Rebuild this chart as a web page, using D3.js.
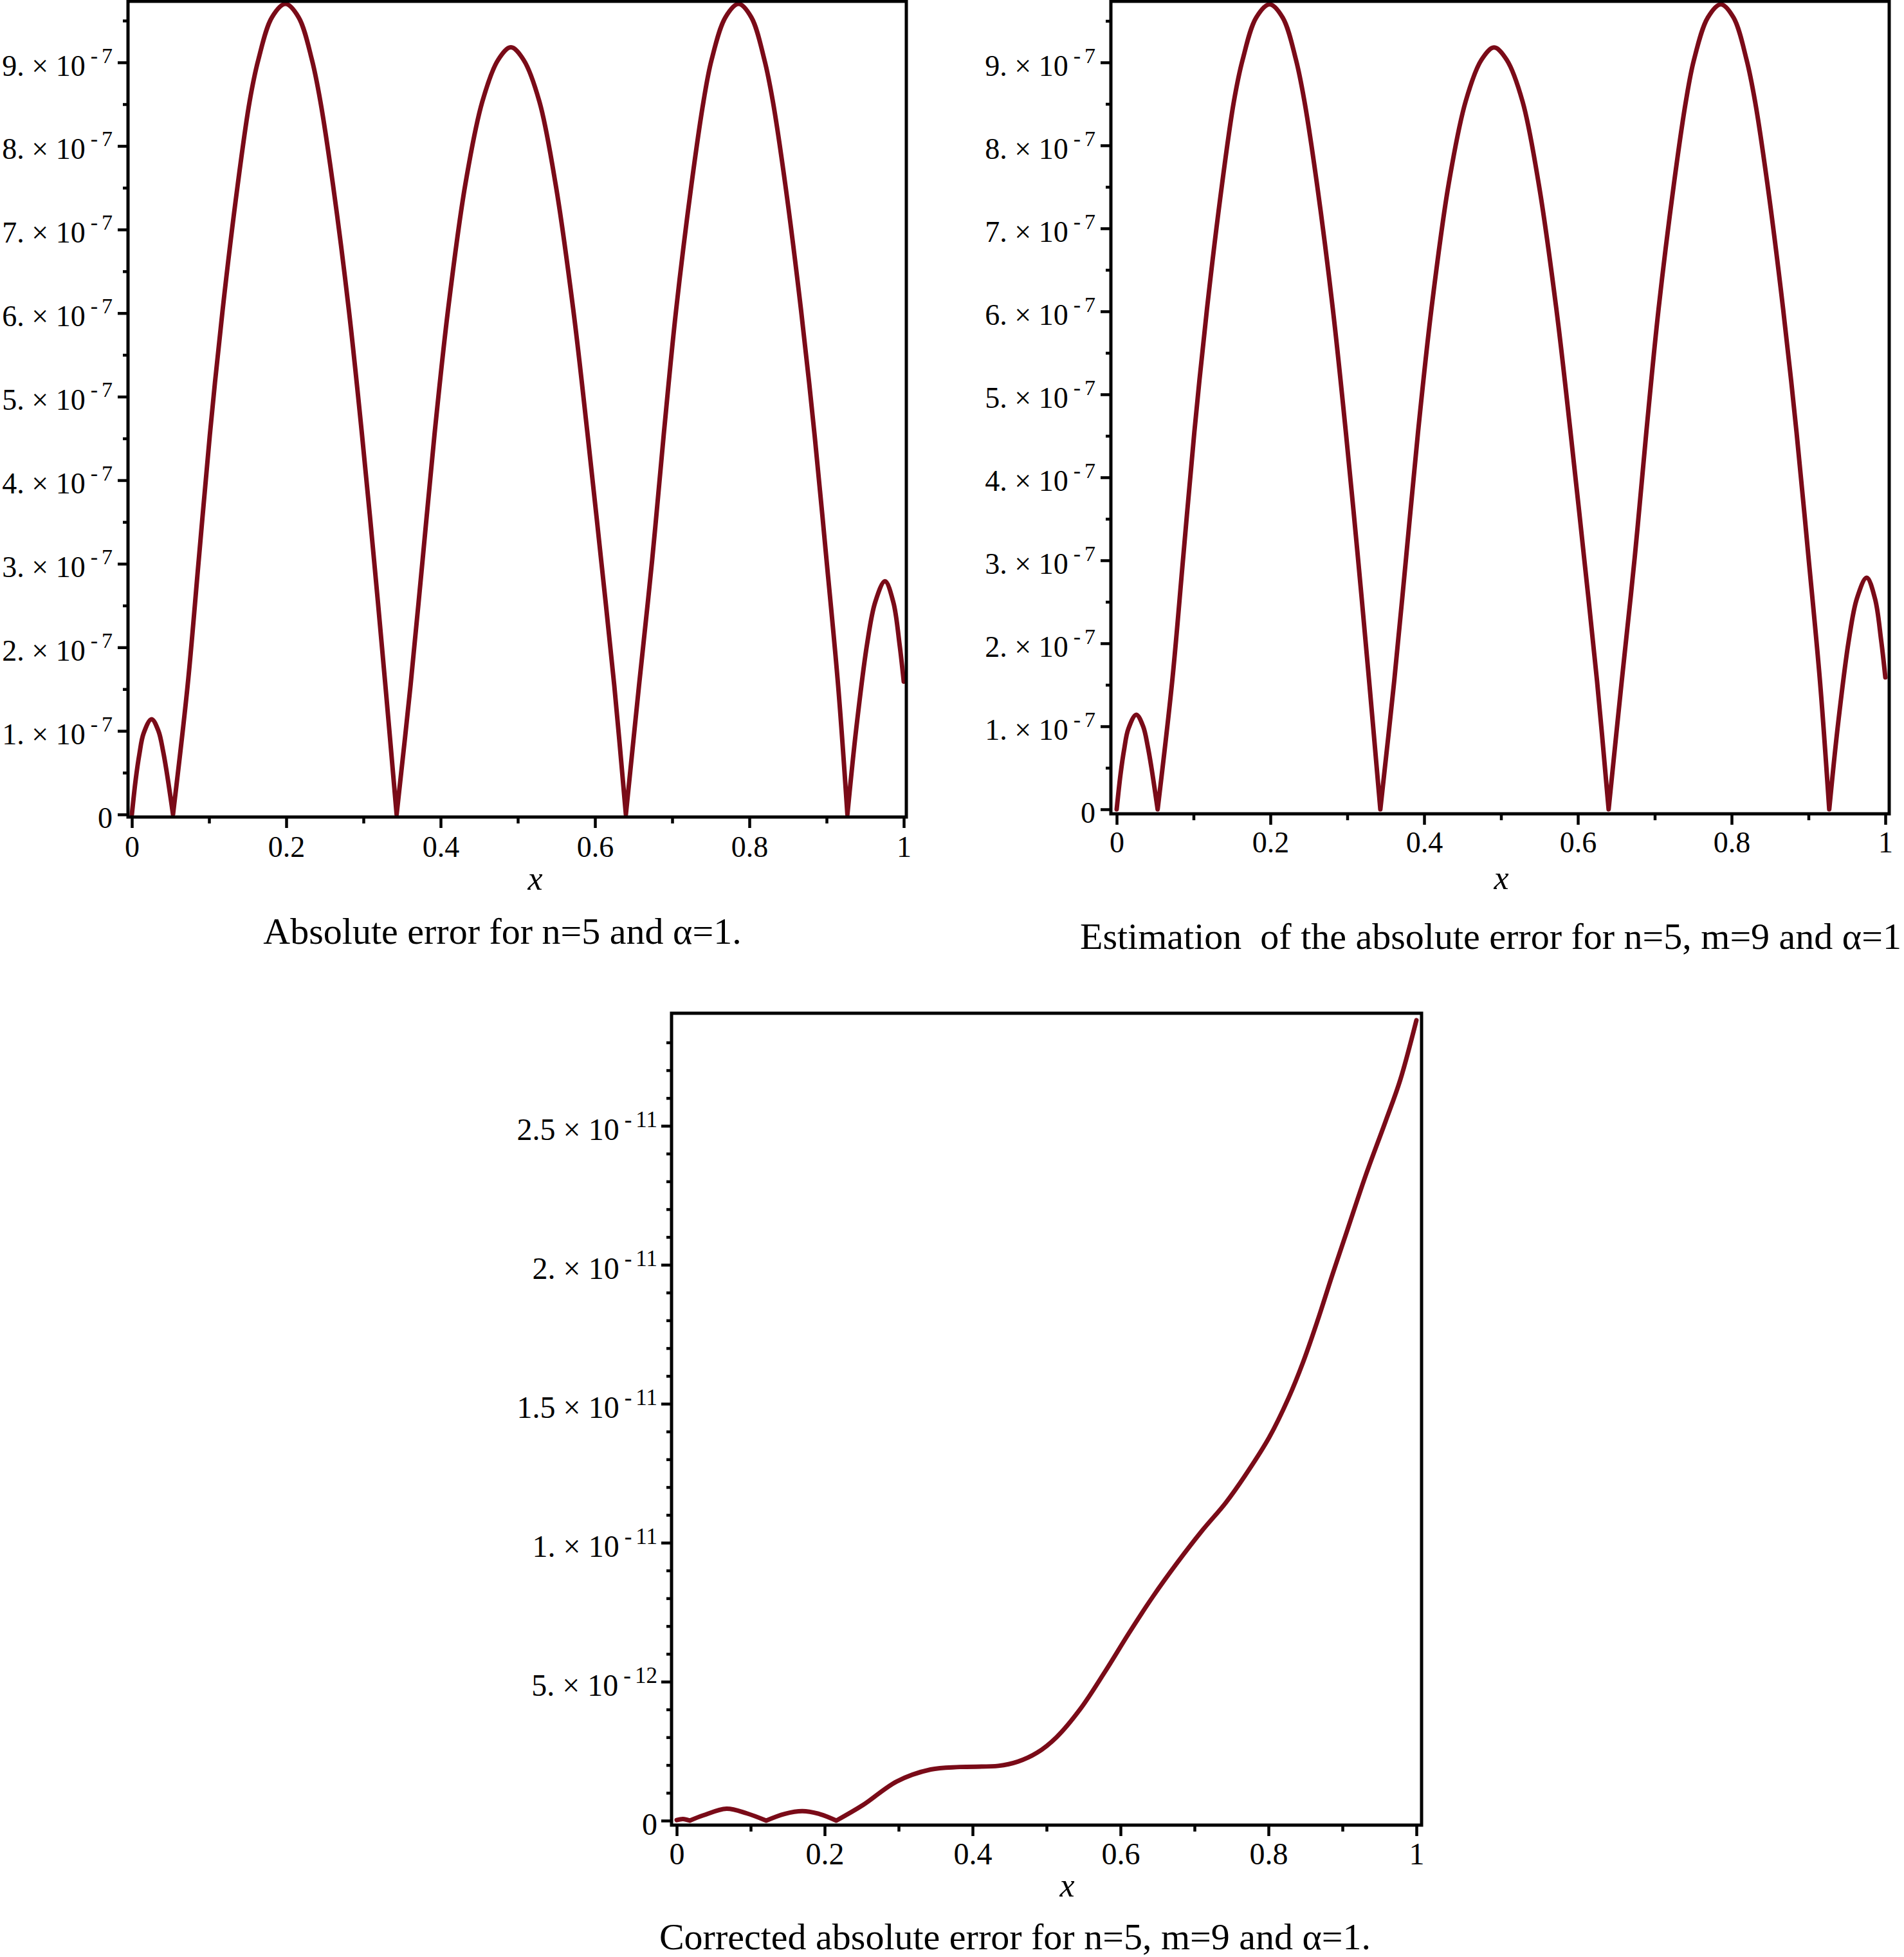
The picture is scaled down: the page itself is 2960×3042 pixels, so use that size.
<!DOCTYPE html>
<html>
<head>
<meta charset="utf-8">
<script src="https://cdn.jsdelivr.net/npm/d3@7"></script>
<style>
  html, body { margin: 0; padding: 0; background: #fff; }
  svg text { font-family: "Liberation Serif", "Times New Roman", Times, serif; }
</style>
</head>
<body>
<svg id="chart" width="2960" height="3042"></svg>
<script>
// ---------------- data ----------------
const xTicks = [0, 0.2, 0.4, 0.6, 0.8, 1];
const xTickLabels = ["0", "0.2", "0.4", "0.6", "0.8", "1"];
const xMinorTicks = [0.1, 0.3, 0.5, 0.7, 0.9];

// top panels: values in units of 1e-7
const yTicksTop = [0, 1, 2, 3, 4, 5, 6, 7, 8, 9];
const yTickLabelsTop = ["0", "1. \u00d7 10^-7", "2. \u00d7 10^-7", "3. \u00d7 10^-7", "4. \u00d7 10^-7",
  "5. \u00d7 10^-7", "6. \u00d7 10^-7", "7. \u00d7 10^-7", "8. \u00d7 10^-7", "9. \u00d7 10^-7"];
const yMinorTop = [0.5, 1.5, 2.5, 3.5, 4.5, 5.5, 6.5, 7.5, 8.5, 9.5];

// bottom panel: values in units of 1e-12
const yTicksBottom = [0, 5, 10, 15, 20, 25];
const yTickLabelsBottom = ["0", "5. \u00d7 10^-12", "1. \u00d7 10^-11", "1.5 \u00d7 10^-11", "2. \u00d7 10^-11", "2.5 \u00d7 10^-11"];
const yMinorBottom = [1, 2, 3, 4, 6, 7, 8, 9, 11, 12, 13, 14, 16, 17, 18, 19, 21, 22, 23, 24, 26, 27, 28];

// Absolute error (1e-7)
const absErrX = [0, 0.005, 0.0097, 0.0152, 0.0255, 0.0344, 0.0404, 0.0451, 0.0533,
  0.0722, 0.0866, 0.101, 0.1175, 0.1372, 0.1525, 0.1638, 0.1815, 0.199, 0.216, 0.2333, 0.2443, 0.2605, 0.2812, 0.2982, 0.3138, 0.3285, 0.343,
  0.361, 0.3766, 0.392, 0.4095, 0.432, 0.454, 0.4745, 0.491, 0.5075, 0.528, 0.549, 0.572, 0.5905, 0.608, 0.625, 0.640,
  0.657, 0.674, 0.689, 0.705, 0.725, 0.7405, 0.751, 0.769, 0.786, 0.8025, 0.8195, 0.8305, 0.8465, 0.867, 0.8845, 0.900, 0.915, 0.927,
  0.9385, 0.9525, 0.963, 0.9757, 0.9865, 0.9945, 1.0];
const absErrY = [0, 0.42, 0.72, 0.97, 1.14, 1.0, 0.76, 0.51, 0,
  1.54, 3.04, 4.54, 6.03, 7.54, 8.53, 9.03, 9.54, 9.70, 9.54, 9.03, 8.53, 7.54, 6.03, 4.54, 3.04, 1.54, 0,
  1.54, 3.04, 4.54, 6.03, 7.54, 8.53, 9.03, 9.18, 9.03, 8.53, 7.54, 6.03, 4.54, 3.04, 1.54, 0,
  1.54, 3.04, 4.54, 6.03, 7.54, 8.53, 9.03, 9.54, 9.70, 9.54, 9.03, 8.53, 7.54, 6.03, 4.54, 3.04, 1.54, 0,
  1.03, 2.04, 2.54, 2.79, 2.54, 2.04, 1.59];

// Estimation of the absolute error (1e-7)
const estErrX = [0, 0.005, 0.0097, 0.0152, 0.0255, 0.0344, 0.0404, 0.0451, 0.0533,
  0.0722, 0.0866, 0.101, 0.1175, 0.1372, 0.1525, 0.1638, 0.1815, 0.199, 0.216, 0.2333, 0.2443, 0.2605, 0.2812, 0.2982, 0.3138, 0.3285, 0.343,
  0.361, 0.3766, 0.392, 0.4095, 0.432, 0.454, 0.4745, 0.491, 0.5075, 0.528, 0.549, 0.572, 0.5905, 0.608, 0.625, 0.640,
  0.657, 0.674, 0.689, 0.705, 0.725, 0.7405, 0.751, 0.769, 0.786, 0.8025, 0.8195, 0.8305, 0.8465, 0.867, 0.8845, 0.900, 0.915, 0.927,
  0.9385, 0.9525, 0.963, 0.9757, 0.9865, 0.9945, 1.0];
const estErrY = [0, 0.42, 0.72, 0.97, 1.14, 1.0, 0.76, 0.51, 0,
  1.54, 3.04, 4.54, 6.03, 7.54, 8.53, 9.03, 9.54, 9.70, 9.54, 9.03, 8.53, 7.54, 6.03, 4.54, 3.04, 1.54, 0,
  1.54, 3.04, 4.54, 6.03, 7.54, 8.53, 9.03, 9.18, 9.03, 8.53, 7.54, 6.03, 4.54, 3.04, 1.54, 0,
  1.54, 3.04, 4.54, 6.03, 7.54, 8.53, 9.03, 9.54, 9.70, 9.54, 9.03, 8.53, 7.54, 6.03, 4.54, 3.04, 1.54, 0,
  1.03, 2.04, 2.54, 2.79, 2.54, 2.04, 1.59];

// Corrected absolute error (1e-12)
const corrErrX = [0, 0.0085, 0.0177, 0.036, 0.0674, 0.0948, 0.121, 0.1458, 0.170, 0.194, 0.2158,
  0.2518, 0.2976, 0.3434, 0.3826, 0.4349, 0.461, 0.487, 0.5134, 0.546, 0.5788, 0.6115, 0.644, 0.677,
  0.7096, 0.7423, 0.7685, 0.801, 0.827, 0.847, 0.8666, 0.886, 0.906, 0.932, 0.958, 0.978, 1.0];
const corrErrY = [0.02, 0.06, 0, 0.19, 0.43, 0.26, 0, 0.24, 0.34, 0.23, 0,
  0.56, 1.41, 1.84, 1.93, 1.97, 2.12, 2.44, 3.00, 4.03, 5.35, 6.75, 8.07, 9.29,
  10.41, 11.44, 12.42, 13.79, 15.20, 16.51, 18.01, 19.61, 21.20, 23.26, 25.14, 26.64, 28.80];

const titles = [
  "Absolute error for n=5 and \u03b1=1.",
  "Estimation  of the absolute error for n=5, m=9 and \u03b1=1",
  "Corrected absolute error for n=5, m=9 and \u03b1=1."
];
const axisLabel = "x";

// ---------------- layout ----------------
const CURVE = "#7a0b18";
const panels = [
  { xs: absErrX, ys: absErrY, yTicks: yTicksTop, yLabels: yTickLabelsTop, yMinor: yMinorTop, yRef: [0, 9],
    box: { l: 199, r: 1409, t: 2, b: 1270 }, xPx: [205, 1405], yPx: [1266, 97],
    fs: 46, supFs: 34, yLabX: -24, yLabDy: 20, xLabDy: 62,
    xTitle: { x: 832, y: 1383 }, title: { text: titles[0], x: 781, y: 1467, anchor: "middle" } },
  { xs: estErrX, ys: estErrY, yTicks: yTicksTop, yLabels: yTickLabelsTop, yMinor: yMinorTop, yRef: [0, 9],
    box: { l: 1727, r: 2937, t: 2, b: 1265 }, xPx: [1736, 2931], yPx: [1258, 97],
    fs: 46, supFs: 34, yLabX: -24, yLabDy: 20, xLabDy: 60,
    xTitle: { x: 2334, y: 1382 }, title: { text: titles[1], x: 1679, y: 1475, anchor: "start" } },
  { xs: corrErrX, ys: corrErrY, yTicks: yTicksBottom, yLabels: yTickLabelsBottom, yMinor: yMinorBottom, yRef: [0, 25],
    box: { l: 1044, r: 2210, t: 1575, b: 2837 }, xPx: [1052, 2202], yPx: [2830, 1750],
    fs: 48, supFs: 35, yLabX: -22, yLabDy: 21, xLabDy: 61,
    xTitle: { x: 1659, y: 2948 }, title: { text: titles[2], x: 1578, y: 3030, anchor: "middle" } }
];

const svg = d3.select("#chart");
svg.append("rect").attr("width", 2960).attr("height", 3042).attr("fill", "#fff");

function splitAtZeros(xs, ys) {
  const segs = [];
  let cur = [];
  xs.forEach((x, i) => {
    cur.push([x, ys[i]]);
    if (ys[i] === 0 && cur.length > 1) { segs.push(cur); cur = [[x, ys[i]]]; }
  });
  if (cur.length > 1) segs.push(cur);
  return segs;
}

function sciLabel(text, label, fs, supFs) {
  const parts = label.split("^");
  text.text(null);
  text.append("tspan").attr("font-size", fs).text(parts[0]);
  if (parts.length > 1) {
    const e = parts[1];
    text.append("tspan").attr("font-size", supFs).attr("dx", 8).attr("dy", -20).text("-");
    text.append("tspan").attr("font-size", supFs).attr("dx", 6).text(e.replace("-", ""));
  }
}

panels.forEach(p => {
  const g = svg.append("g");
  const x = d3.scaleLinear().domain([0, 1]).range(p.xPx);
  const y = d3.scaleLinear().domain(p.yRef).range(p.yPx);

  // curve
  const line = d3.line().x(d => x(d[0])).y(d => y(d[1])).curve(d3.curveCatmullRom.alpha(0.5));
  const segs = splitAtZeros(p.xs, p.ys);
  const dStr = segs.map((s, i) => { const ds = line(s); return i ? ds.replace(/^M/, "L") : ds; }).join("");
  g.append("path").attr("d", dStr).attr("fill", "none").attr("stroke", CURVE)
    .attr("stroke-width", 7).attr("stroke-linejoin", "round").attr("stroke-linecap", "round");

  // x axis (major + minor)
  const gx = g.append("g").attr("transform", `translate(0,${p.box.b})`)
    .call(d3.axisBottom(x).tickValues(xTicks).tickSize(17).tickFormat((d, i) => xTickLabels[i]));
  gx.select(".domain").remove();
  gx.selectAll(".tick line").attr("stroke", "#000").attr("stroke-width", 4.5);
  gx.selectAll(".tick text").attr("y", p.xLabDy).attr("dy", 0).attr("font-size", p.fs)
    .attr("font-family", "'Liberation Serif', 'Times New Roman', serif").attr("fill", "#000");
  const gxm = g.append("g").attr("transform", `translate(0,${p.box.b})`)
    .call(d3.axisBottom(x).tickValues(xMinorTicks).tickSize(10).tickFormat(""));
  gxm.select(".domain").remove();
  gxm.selectAll(".tick line").attr("stroke", "#000").attr("stroke-width", 4.5);

  // y axis (major + minor)
  const gy = g.append("g").attr("transform", `translate(${p.box.l},0)`)
    .call(d3.axisLeft(y).tickValues(p.yTicks).tickSize(16).tickFormat((d, i) => p.yLabels[i]));
  gy.select(".domain").remove();
  gy.selectAll(".tick line").attr("stroke", "#000").attr("stroke-width", 4.5);
  gy.selectAll(".tick text").each(function (d, i) {
    const t = d3.select(this);
    t.attr("x", p.yLabX).attr("y", p.yLabDy).attr("dy", 0).attr("text-anchor", "end")
      .attr("font-family", "'Liberation Serif', 'Times New Roman', serif").attr("fill", "#000");
    sciLabel(t, p.yLabels[i], p.fs, p.supFs);
  });
  const gym = g.append("g").attr("transform", `translate(${p.box.l},0)`)
    .call(d3.axisLeft(y).tickValues(p.yMinor).tickSize(8).tickFormat(""));
  gym.select(".domain").remove();
  gym.selectAll(".tick line").attr("stroke", "#000").attr("stroke-width", 4.5);

  // box
  g.append("rect").attr("x", p.box.l).attr("y", p.box.t)
    .attr("width", p.box.r - p.box.l).attr("height", p.box.b - p.box.t)
    .attr("fill", "none").attr("stroke", "#000").attr("stroke-width", 5);

  // axis label
  g.append("text").attr("x", p.xTitle.x).attr("y", p.xTitle.y).attr("text-anchor", "middle")
    .attr("font-size", 52).attr("font-style", "italic").attr("fill", "#000").text(axisLabel);

  // caption
  g.append("text").attr("x", p.title.x).attr("y", p.title.y).attr("text-anchor", p.title.anchor)
    .attr("font-size", 58).attr("fill", "#000").style("white-space", "pre").text(p.title.text);
});
</script>
</body>
</html>
